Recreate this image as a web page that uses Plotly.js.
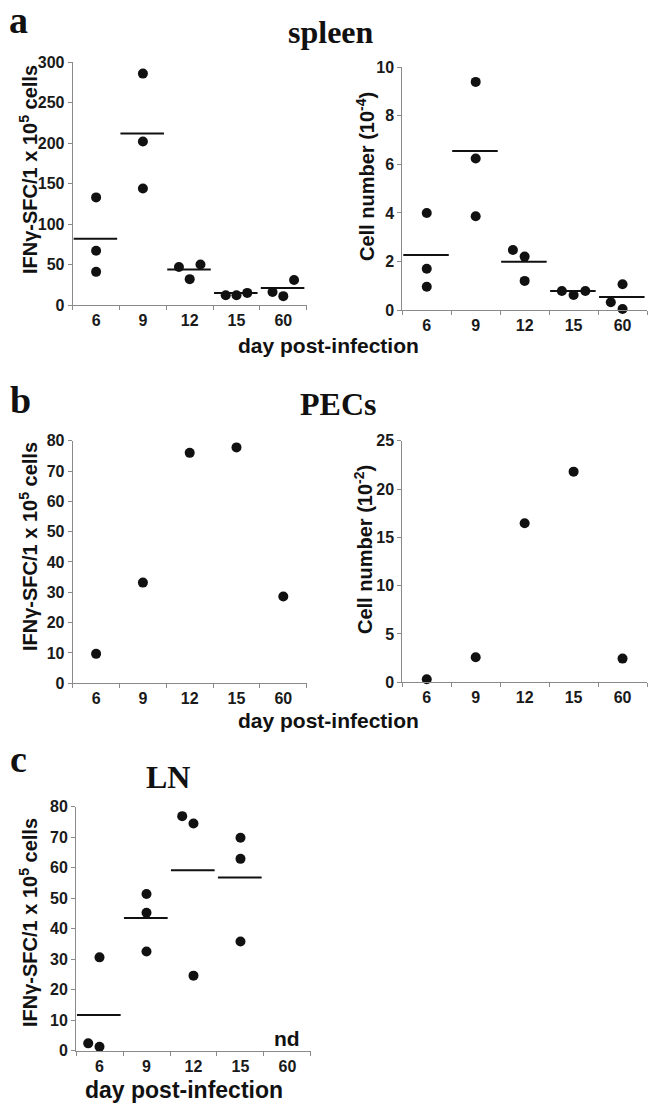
<!DOCTYPE html>
<html>
<head>
<meta charset="utf-8">
<script src="https://cdn.plot.ly/plotly-3.0.1.min.js"></script>
<style>html,body{margin:0;padding:0;background:#fff;}#chart{width:648px;height:1104px;}</style>
</head>
<body>
<div id="chart"></div>
<script>
// ---- data ----
const dayLabels = ['6', '9', '12', '15', '60'];

// a: spleen, IFNγ-SFC per 1e5 cells (3 mice per day)
const spleenSfc = [[133, 67, 41], [286, 202, 144], [47, 32, 50], [12, 12, 15], [16, 11, 31]];
const spleenSfcJitter = [[0, 0, 0], [0, 0, 0], [-0.23, 0, 0.23], [-0.23, 0, 0.23], [-0.23, 0, 0.23]];
const spleenSfcMean = [82, 212, 44, 15, 21];

// a: spleen, cell number (1e-4)
const spleenCells = [[4.0, 1.7, 0.96], [9.4, 6.24, 3.86], [2.47, 2.2, 1.2], [0.78, 0.62, 0.78], [0.32, 1.06, 0.04]];
const spleenCellsJitter = [[0, 0, 0], [0, 0, 0], [-0.24, 0, 0], [-0.24, 0, 0.24], [-0.24, 0, 0]];
const spleenCellsMean = [2.27, 6.55, 1.99, 0.78, 0.54];

// b: PECs (pooled, single value per day)
const pecSfc = [9.7, 33.2, 76.0, 77.8, 28.6];
const pecCells = [0.31, 2.59, 16.45, 21.8, 2.45];

// c: LN, IFNγ-SFC per 1e5 cells (day 60 not determined)
const lnSfc = [[2.4, 1.3, 30.6], [51.4, 45.2, 32.5], [76.9, 74.5, 24.6], [69.8, 62.9, 35.8], []];
const lnSfcJitter = [[-0.24, 0, 0], [0, 0, 0], [-0.24, 0, 0], [0, 0, 0], []];
const lnSfcMean = [11.7, 43.5, 59.2, 56.8, null];

// ---- helpers ----
const SANS = 'Liberation Sans, Arial, Helvetica, sans-serif';
const SERIF = 'Liberation Serif, Times New Roman, serif';
const INK = '#111111';
const AXIS = '#8a8a8a';

function groupedPoints(vals, jit, xa, ya) {
  const x = [], y = [];
  vals.forEach((g, i) => g.forEach((v, j) => { x.push(i + jit[i][j]); y.push(v); }));
  return {type: 'scatter', mode: 'markers', x, y, xaxis: xa, yaxis: ya,
    marker: {size: 10, color: INK}, cliponaxis: false, showlegend: false, hoverinfo: 'y'};
}
function singlePoints(vals, xa, ya) {
  return {type: 'scatter', mode: 'markers', x: vals.map((v, i) => i), y: vals, xaxis: xa, yaxis: ya,
    marker: {size: 10, color: INK}, cliponaxis: false, showlegend: false, hoverinfo: 'y'};
}
function meanLines(means, xa, ya) {
  const x = [], y = [];
  means.forEach((m, i) => { if (m == null) return; x.push(i - 0.48, i + 0.45, null); y.push(m, m, null); });
  return {type: 'scatter', mode: 'lines', x, y, xaxis: xa, yaxis: ya,
    line: {color: INK, width: 2}, cliponaxis: false, showlegend: false, hoverinfo: 'skip'};
}

const tickFont = {family: SANS, size: 16, color: '#1a1a1a', weight: 'bold'};
function xAxis(domain, anchor) {
  return {domain, anchor, range: [-0.5, 4.5], tickmode: 'array', tickvals: [0, 1, 2, 3, 4], ticktext: dayLabels,
    ticks: 'outside', ticklen: 1, tickcolor: 'rgba(0,0,0,0)', tickfont: tickFont,
    minor: {tickmode: 'array', tickvals: [-0.5, 0.5, 1.5, 2.5, 3.5, 4.5], ticks: 'outside', ticklen: 4, tickcolor: AXIS, tickwidth: 1},
    showline: true, linecolor: AXIS, linewidth: 1, showgrid: false, zeroline: false, fixedrange: true};
}
function yAxis(domain, anchor, range, dtick, ticktext) {
  const tv = []; for (let v = range[0]; v <= range[1] + 1e-9; v += dtick) tv.push(v);
  return {domain, anchor, range, tickmode: 'array', tickvals: tv, ticktext: ticktext || tv.map(String),
    ticks: 'outside', ticklen: 4, tickcolor: AXIS, tickwidth: 1, tickfont: tickFont,
    showline: true, linecolor: AXIS, linewidth: 1, showgrid: false, zeroline: false, fixedrange: true};
}

const data = [
  groupedPoints(spleenSfc, spleenSfcJitter, 'x', 'y'),
  meanLines(spleenSfcMean, 'x', 'y'),
  groupedPoints(spleenCells, spleenCellsJitter, 'x2', 'y2'),
  meanLines(spleenCellsMean, 'x2', 'y2'),
  singlePoints(pecSfc, 'x3', 'y3'),
  singlePoints(pecCells, 'x4', 'y4'),
  groupedPoints(lnSfc, lnSfcJitter, 'x5', 'y5'),
  meanLines(lnSfcMean, 'x5', 'y5')
];

const W = 648, H = 1104;
const px = v => v / W, py = v => 1 - v / H;

function txt(text, x, y, size, family, extra) {
  return Object.assign({text, xref: 'paper', yref: 'paper', x: px(x), y: py(y), xanchor: 'center', yanchor: 'middle',
    showarrow: false, font: {family, size, color: INK, weight: 'bold'}}, extra || {});
}
const sfcTitle = 'IFNγ-SFC/1 x 10<sup>5</sup> cells';

const layout = {
  width: W, height: H, margin: {l: 0, r: 0, t: 0, b: 0},
  paper_bgcolor: '#ffffff', plot_bgcolor: 'rgba(0,0,0,0)', showlegend: false,
  xaxis: xAxis([0.1122, 0.4733], 'y'),
  yaxis: yAxis([0.7237, 0.9436], 'x', [0, 300], 50),
  xaxis2: xAxis([0.6208, 0.9985], 'y2'),
  yaxis2: yAxis([0.7192, 0.9390], 'x2', [0, 10], 2),
  xaxis3: xAxis([0.1122, 0.4733], 'y3'),
  yaxis3: yAxis([0.3811, 0.6008], 'x3', [0, 80], 10),
  xaxis4: xAxis([0.6208, 0.9985], 'y4'),
  yaxis4: yAxis([0.3820, 0.6008], 'x4', [0, 25], 5),
  xaxis5: xAxis([0.1173, 0.4799], 'y5'),
  yaxis5: yAxis([0.0483, 0.2693], 'x5', [0, 80], 10),
  annotations: [
    txt('a', 18, 20, 38, SERIF),
    txt('spleen', 331, 32, 32, SERIF),
    txt('b', 20, 400, 38, SERIF),
    txt('PECs', 338, 404, 32, SERIF),
    txt('c', 18, 759, 38, SERIF),
    txt('LN', 168, 777, 32, SERIF),
    txt(sfcTitle, 28, 170, 20, SANS, {textangle: -90}),
    txt('Cell number (10<sup>-4</sup>)', 365, 176, 20, SANS, {textangle: -90}),
    txt(sfcTitle, 28, 547, 20, SANS, {textangle: -90}),
    txt('Cell number (10<sup>-2</sup>)', 363, 550, 20, SANS, {textangle: -90}),
    txt(sfcTitle, 28, 923, 20, SANS, {textangle: -90}),
    txt('day post-infection', 328, 345, 21, SANS),
    txt('day post-infection', 328, 720, 21, SANS),
    txt('day post-infection', 184, 1090, 23, SANS),
    {text: 'nd', xref: 'x5', yref: 'paper', x: 4, y: py(1038), xanchor: 'center', yanchor: 'middle',
      showarrow: false, font: {family: SANS, size: 21, color: INK, weight: 'bold'}}
  ]
};

Plotly.newPlot('chart', data, layout, {staticPlot: true, displayModeBar: false});
</script>
</body>
</html>
